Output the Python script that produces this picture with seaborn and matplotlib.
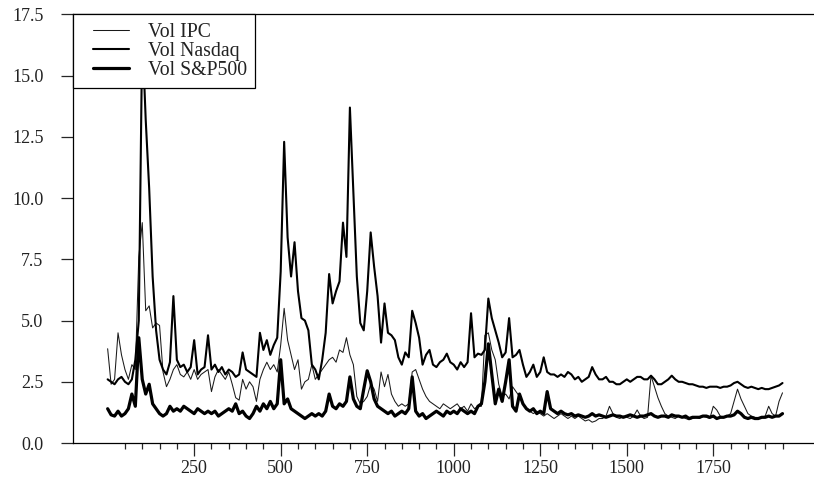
import numpy as np
import pandas as pd
import matplotlib
matplotlib.use("Agg")
import matplotlib.pyplot as plt
from matplotlib.ticker import FixedLocator, FormatStrFormatter
from matplotlib.legend_handler import HandlerLine2D
import seaborn as sns

obs = list(range(0, 1951, 10))

vol_nasdaq = [
    2.6, 2.5, 2.4, 2.6, 2.7, 2.5, 2.4, 2.6, 3.4, 5.0,
    16.8, 13.2, 10.4, 6.8, 4.6, 3.4, 3.0, 2.8, 3.3, 6.0,
    3.4, 3.1, 3.2, 2.9, 3.1, 4.2, 2.8, 3.0, 3.1, 4.4,
    3.0, 3.2, 2.9, 3.1, 2.8, 3.0, 2.9, 2.7, 2.8, 3.7,
    3.0, 2.9, 2.8, 2.7, 4.5, 3.8, 4.2, 3.6, 4.0, 4.3,
    7.0, 12.3, 8.4, 6.8, 8.2, 6.2, 5.1, 5.0, 4.6, 3.2,
    3.0, 2.6, 3.4, 4.5, 6.9, 5.7, 6.2, 6.6, 9.0, 7.6,
    13.7, 10.3, 6.8, 4.9, 4.6, 6.2, 8.6, 7.2, 6.0, 4.1,
    5.7, 4.5, 4.4, 4.2, 3.5, 3.2, 3.7, 3.5, 5.4, 4.9,
    4.3, 3.2, 3.6, 3.8, 3.2, 3.1, 3.3, 3.4, 3.65, 3.3,
    3.2, 3.0, 3.3, 3.1, 3.3, 5.3, 3.5, 3.65, 3.6, 3.8,
    5.9, 5.1, 4.6, 4.1, 3.5, 3.7, 5.1, 3.5, 3.6, 3.8,
    3.2, 2.7, 2.9, 3.2, 2.7, 2.9, 3.5, 2.9, 2.8, 2.8,
    2.7, 2.8, 2.7, 2.9, 2.8, 2.6, 2.7, 2.5, 2.6, 2.7,
    3.1, 2.8, 2.6, 2.6, 2.7, 2.5, 2.5, 2.4, 2.4, 2.5,
    2.6, 2.5, 2.6, 2.7, 2.7, 2.6, 2.6, 2.75, 2.6, 2.4,
    2.4, 2.5, 2.6, 2.75, 2.6, 2.5, 2.5, 2.45, 2.4, 2.4,
    2.35, 2.3, 2.3, 2.25, 2.3, 2.3, 2.3, 2.25, 2.3, 2.3,
    2.35, 2.45, 2.5, 2.4, 2.3, 2.25, 2.3, 2.25, 2.2, 2.25,
    2.2, 2.2, 2.25, 2.3, 2.35, 2.45,
]

vol_ipc = [
    3.85, 2.4, 2.6, 4.5, 3.6, 3.0, 2.6, 3.2, 3.0, 7.6,
    9.0, 5.4, 5.6, 4.7, 4.9, 4.8, 2.9, 2.3, 2.6, 3.0,
    3.2, 2.8, 2.7, 2.9, 2.6, 3.0, 2.6, 2.8, 2.9, 3.0,
    2.1, 2.7, 3.0, 2.8, 2.6, 2.9, 2.4, 1.85, 1.75, 2.6,
    2.2, 2.5, 2.3, 1.7, 2.6, 3.0, 3.3, 3.0, 3.2, 2.9,
    4.0, 5.5, 4.2, 3.6, 3.0, 3.4, 2.2, 2.5, 2.6, 3.2,
    2.6, 2.8, 3.0, 3.2, 3.4, 3.5, 3.3, 3.8, 3.7, 4.3,
    3.6, 3.2, 1.9, 1.6, 1.7, 1.9, 2.4, 2.2, 1.7, 2.9,
    2.3, 2.8, 2.0, 1.7, 1.5, 1.6, 1.5, 1.6, 2.9, 3.0,
    2.6, 2.2, 1.9, 1.7, 1.6, 1.5, 1.4, 1.6, 1.5, 1.4,
    1.5, 1.6, 1.4, 1.5, 1.3, 1.6, 1.4, 1.5, 1.5, 4.4,
    4.5, 3.8, 3.4, 2.4, 1.9, 2.0, 1.8, 2.3, 2.1, 1.9,
    1.6, 1.4, 1.3, 1.2, 1.3, 1.2, 1.1, 1.2, 1.1, 1.0,
    1.1, 1.2, 1.1, 1.0, 1.1, 1.0, 1.1, 1.0, 0.9, 0.95,
    0.85, 0.9, 1.0, 1.0, 1.1, 1.5, 1.2, 1.05, 1.0, 1.1,
    1.05, 1.0, 1.1, 1.35, 1.1, 1.0, 1.05, 2.75, 2.3, 1.85,
    1.5, 1.2, 1.1, 1.05, 1.0, 1.1, 1.05, 1.0, 0.95, 1.0,
    1.05, 1.0, 1.1, 1.05, 1.0, 1.5, 1.35, 1.1, 1.05, 1.1,
    1.2, 1.7, 2.2, 1.8, 1.5, 1.2, 1.1, 1.05, 1.0, 1.05,
    1.1, 1.5, 1.2, 1.1, 1.7, 2.05,
]

vol_sp500 = [
    1.4, 1.15, 1.1, 1.3, 1.1, 1.2, 1.4, 2.0, 1.5, 4.3,
    2.6, 2.0, 2.4, 1.6, 1.4, 1.2, 1.1, 1.2, 1.5, 1.3,
    1.4, 1.3, 1.5, 1.4, 1.3, 1.2, 1.4, 1.3, 1.2, 1.3,
    1.2, 1.3, 1.1, 1.2, 1.3, 1.4, 1.3, 1.6, 1.2, 1.3,
    1.1, 1.0, 1.2, 1.5, 1.3, 1.6, 1.4, 1.7, 1.4, 1.6,
    3.4, 1.6, 1.8, 1.4, 1.3, 1.2, 1.1, 1.0, 1.1, 1.2,
    1.1, 1.2, 1.1, 1.3, 2.0, 1.5, 1.4, 1.6, 1.5, 1.7,
    2.7, 1.8, 1.5, 1.4, 2.2, 2.95, 2.5, 1.8, 1.5, 1.4,
    1.3, 1.2, 1.3, 1.1, 1.2, 1.3, 1.2, 1.4, 2.7, 1.3,
    1.1, 1.2, 1.0, 1.1, 1.2, 1.3, 1.2, 1.1, 1.3, 1.2,
    1.3, 1.2, 1.4, 1.3, 1.2, 1.3, 1.2, 1.5, 1.6, 2.5,
    4.05, 2.8, 1.6, 2.2, 1.7, 2.5, 3.4, 1.5, 1.3, 2.0,
    1.6, 1.4, 1.3, 1.4, 1.2, 1.3, 1.2, 2.1, 1.4, 1.3,
    1.2, 1.3, 1.2, 1.15, 1.2, 1.1, 1.15, 1.1, 1.05, 1.1,
    1.2, 1.1, 1.15, 1.1, 1.05, 1.1, 1.15, 1.1, 1.1, 1.05,
    1.1, 1.15, 1.1, 1.05, 1.1, 1.1, 1.15, 1.2, 1.1, 1.05,
    1.1, 1.1, 1.05, 1.15, 1.1, 1.1, 1.05, 1.1, 1.0, 1.05,
    1.05, 1.05, 1.1, 1.1, 1.05, 1.1, 1.0, 1.05, 1.05, 1.1,
    1.1, 1.15, 1.3, 1.2, 1.05, 1.0, 1.05, 1.0, 1.0, 1.05,
    1.05, 1.1, 1.05, 1.1, 1.1, 1.2,
]

series_labels = ["Vol IPC", "Vol Nasdaq", "Vol S&P500"]
x_major = [250, 500, 750, 1000, 1250, 1500, 1750]
x_minor = [v for v in range(50, 1951, 50) if v not in x_major]
y_ticks = [0.0, 2.5, 5.0, 7.5, 10.0, 12.5, 15.0, 17.5]

assert len(vol_ipc) == len(obs) == len(vol_nasdaq) == len(vol_sp500)

df = pd.DataFrame({"obs": obs, "Vol IPC": vol_ipc,
                   "Vol Nasdaq": vol_nasdaq, "Vol S&P500": vol_sp500})

# ---- style ----
sns.set_style("ticks")
plt.rcParams["font.family"] = ["Liberation Serif", "DejaVu Serif"]

fig = plt.figure(figsize=(8.14, 4.78), dpi=100)
ax = fig.add_axes([0.0893, 0.0732, 0.9107, 0.8965])

widths = {"Vol IPC": 0.75, "Vol Nasdaq": 1.5, "Vol S&P500": 2.3}
colors = {"Vol IPC": "#1a1a1a", "Vol Nasdaq": "#000000", "Vol S&P500": "#000000"}
for name in series_labels:
    sns.lineplot(data=df, x="obs", y=name, ax=ax, color=colors[name],
                 linewidth=widths[name], label=name)

ax.set_xlim(-101, 2041)
ax.set_ylim(0, 17.5)
ax.set_xlabel("")
ax.set_ylabel("")

ax.xaxis.set_major_locator(FixedLocator(x_major))
ax.xaxis.set_minor_locator(FixedLocator(x_minor))
ax.yaxis.set_major_locator(FixedLocator(y_ticks))
ax.yaxis.set_major_formatter(FormatStrFormatter("%.1f"))

ax.tick_params(axis="y", which="major", direction="out", length=9, width=0.9,
               pad=12, labelsize=13, labelcolor="#222222")
ax.tick_params(axis="x", which="major", direction="out", length=9, width=0.9,
               pad=3, labelsize=13, labelcolor="#222222")
ax.tick_params(axis="x", which="minor", direction="out", length=4, width=0.9)

for side in ["left", "bottom", "top"]:
    ax.spines[side].set_visible(True)
    ax.spines[side].set_linewidth(0.9)
    ax.spines[side].set_color("black")
ax.spines["right"].set_visible(False)


class ShiftedLineHandler(HandlerLine2D):
    """Legend line sample drawn with an extra indent on its left."""
    shift = 9.0  # points

    def create_artists(self, legend, orig_handle, xdescent, ydescent,
                       width, height, fontsize, trans):
        return super().create_artists(legend, orig_handle,
                                      xdescent - self.shift, ydescent,
                                      width - self.shift, height,
                                      fontsize, trans)


handles, labels = ax.get_legend_handles_labels()
leg = ax.legend(handles, labels, loc="upper left", bbox_to_anchor=(0, 1),
                borderaxespad=0, frameon=True, fancybox=False, framealpha=1,
                edgecolor="black", fontsize=14.2, handlelength=2.45,
                handletextpad=0.95, labelspacing=0.0, borderpad=0.42,
                handler_map={h: ShiftedLineHandler() for h in handles})
leg.get_frame().set_linewidth(0.9)
for t in leg.get_texts():
    t.set_color("#222222")

fig.savefig("out.png", dpi=100)
